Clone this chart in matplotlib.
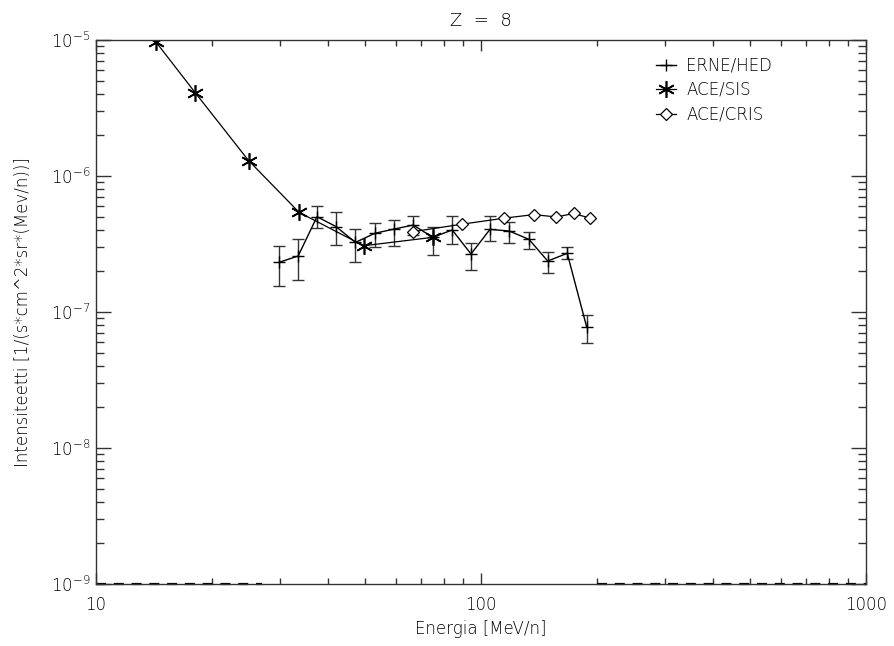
import matplotlib.pyplot as plt
from matplotlib.ticker import NullFormatter

# ---------------- DATA ---------------- #

# ERNE/HED, plus markers with error bars
erne_e = [29.9, 33.5, 37.5, 42.0, 47.2, 53.0, 59.4, 66.7, 74.9,
          84.2, 94.2, 105.5, 118.4, 133.3, 149.0, 167.5, 188.2]
erne_i = [2.32e-7, 2.58e-7, 5.02e-7, 4.25e-7, 3.25e-7, 3.79e-7, 4.07e-7, 4.36e-7, 3.54e-7,
          4.01e-7, 2.67e-7, 4.05e-7, 3.94e-7, 3.42e-7, 2.37e-7, 2.70e-7, 7.72e-8]
erne_top = [3.07e-7, 3.44e-7, 6.05e-7, 5.41e-7, 4.07e-7, 4.54e-7, 4.74e-7, 5.1e-7, 4.24e-7,
            5.1e-7, 3.23e-7, 5.1e-7, 4.61e-7, 3.89e-7, 2.77e-7, 3.02e-7, 9.5e-8]
erne_bot = [1.55e-7, 1.72e-7, 4.12e-7, 3.11e-7, 2.32e-7, 3.02e-7, 3.06e-7, 3.7e-7, 2.62e-7,
            3.16e-7, 2.04e-7, 3.33e-7, 3.23e-7, 2.90e-7, 1.93e-7, 2.45e-7, 5.89e-8]

# ACE/SIS, asterisks
sis_e = [14.3, 18.1, 24.9, 33.7, 49.6, 74.9]
sis_i = [9.7e-6, 4.1e-6, 1.30e-6, 5.4e-7, 3.07e-7, 3.54e-7]

# ACE/CRIS, open diamonds
cris_e = [66.7, 89.1, 115.0, 137.0, 157.0, 174.0, 192.0]
cris_i = [3.9e-7, 4.42e-7, 4.9e-7, 5.2e-7, 5.0e-7, 5.3e-7, 4.9e-7]

# dashed pieces lying on the bottom axis
floor_a_e = [10, 27]
floor_b_e = [200, 1000]
floor_i = [1e-9, 1e-9]

# ---------------- DRAW ---------------- #

plt.rcParams['font.family'] = 'DejaVu Sans'
plt.rcParams['font.weight'] = 'light'
plt.rcParams['axes.titleweight'] = 'light'
plt.rcParams['axes.labelweight'] = 'light'
plt.rcParams['font.size'] = 12
plt.rcParams['mathtext.fontset'] = 'custom'
plt.rcParams['mathtext.rm'] = 'DejaVu Sans:light'
plt.rcParams['mathtext.default'] = 'regular'

fig = plt.figure(figsize=(8.95, 6.46), dpi=100)
ax = fig.add_axes([96 / 895, 1 - 584 / 646, 770 / 895, 544 / 646])
ax.set_xscale('log')
ax.set_yscale('log')
ax.set_xlim(10, 1000)
ax.set_ylim(1e-9, 1e-5)

lo = [v - b for v, b in zip(erne_i, erne_bot)]
hi = [t - v for v, t in zip(erne_i, erne_top)]
ax.errorbar(erne_e, erne_i, yerr=[lo, hi], fmt='none', ecolor='#333333',
            elinewidth=1, capsize=4.5, capthick=1)
ax.plot(erne_e, erne_i, '-', color='k', lw=1, marker='+', ms=8, mew=1,
        label='ERNE/HED')
ax.plot(sis_e, sis_i, '-', color='k', lw=0.9, marker=(6, 2, 0), ms=12, mew=1.2,
        label='ACE/SIS')
ax.plot(cris_e, cris_i, '-', color='k', lw=0.9, marker='D', ms=6, mew=0.9,
        mfc='white', label='ACE/CRIS')

ax.plot(floor_a_e, floor_i, color='k', lw=1.6, dashes=(4.5, 3.5), clip_on=False)
ax.plot(floor_b_e, floor_i, color='k', lw=1.6, dashes=(4.5, 3.5), clip_on=False)

ax.tick_params(which='both', direction='in', top=True, right=True,
               color='#333333', width=1, labelsize=12)
ax.tick_params(axis='x', which='major', length=8, pad=9)
ax.tick_params(axis='x', which='minor', length=4)
ax.tick_params(axis='y', which='major', length=11, pad=4)
ax.tick_params(axis='y', which='minor', length=5.5)
for s in ax.spines.values():
    s.set_linewidth(1)
    s.set_color('#333333')

ax.set_xticks([10, 100, 1000])
ax.set_xticklabels(['10', '100', '1000'])
ax.xaxis.set_minor_formatter(NullFormatter())
ax.yaxis.set_minor_formatter(NullFormatter())

ax.set_title('Z  =  8', fontsize=13, pad=10)
ax.set_xlabel('Energia [MeV/n]', fontsize=12, labelpad=4)
ax.set_ylabel('Intensiteetti [1/(s*cm^2*sr*(Mev/n))]', fontsize=12, labelpad=14)

ax.legend(loc='upper left', bbox_to_anchor=(648 / 895, 1 - 48 / 646),
          bbox_transform=fig.transFigure, frameon=False, handlelength=1.2,
          handletextpad=0.6, labelspacing=0.4, fontsize=12, borderpad=0)

fig.savefig('out.png', dpi=100)
